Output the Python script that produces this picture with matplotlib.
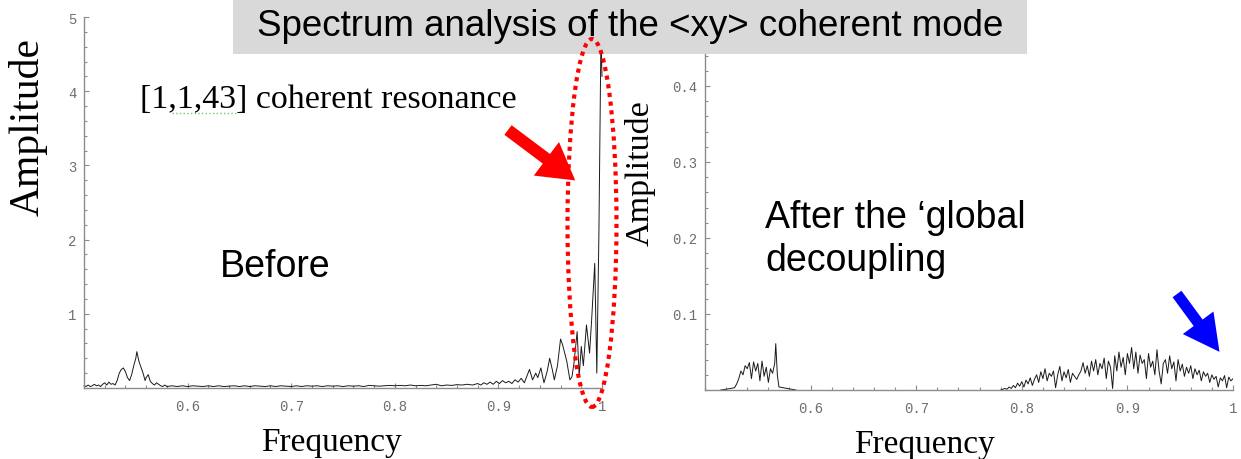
import matplotlib
matplotlib.use("Agg")
import matplotlib.pyplot as plt
from matplotlib.patches import Rectangle, Ellipse, FancyArrow
from matplotlib.transforms import Affine2D
from matplotlib.ticker import FixedLocator, FixedFormatter, MultipleLocator

# ---------------- data ----------------
left_freq = [0.500, 0.502, 0.504, 0.506, 0.508, 0.510, 0.512, 0.514, 0.516, 0.518,
             0.520, 0.522, 0.524, 0.526, 0.528, 0.530, 0.532, 0.534, 0.536, 0.538,
             0.540, 0.542, 0.544, 0.546, 0.548, 0.550, 0.551, 0.553, 0.555, 0.557,
             0.559, 0.560, 0.562, 0.564, 0.566, 0.568, 0.570, 0.572, 0.574, 0.576,
             0.578, 0.580,
             0.585, 0.590, 0.595, 0.600, 0.605, 0.610, 0.615, 0.620, 0.625, 0.630,
             0.635, 0.640, 0.645, 0.650, 0.655, 0.660, 0.665, 0.670, 0.675, 0.680,
             0.685, 0.690, 0.695, 0.700, 0.705, 0.710, 0.715, 0.720, 0.725, 0.730,
             0.735, 0.740, 0.745, 0.750, 0.755, 0.760, 0.765, 0.770, 0.775, 0.780,
             0.785, 0.790, 0.795, 0.800, 0.805, 0.810, 0.815, 0.820, 0.825, 0.830,
             0.835, 0.840, 0.845, 0.850, 0.855, 0.860, 0.865, 0.870, 0.875,
             0.880, 0.883, 0.886, 0.889, 0.892, 0.895, 0.898, 0.901, 0.904, 0.907,
             0.910, 0.913, 0.916, 0.919, 0.922, 0.925, 0.928, 0.930, 0.933, 0.936,
             0.938, 0.941, 0.944, 0.947, 0.9495, 0.952, 0.954, 0.957, 0.960, 0.962,
             0.964, 0.966, 0.969, 0.971, 0.973, 0.976, 0.978, 0.980, 0.982, 0.985,
             0.988, 0.990, 0.993, 0.995, 0.997, 0.999, 1.000]
left_amp = [0.03, 0.02, 0.04, 0.02, 0.03, 0.05, 0.03, 0.04, 0.02, 0.05,
            0.07, 0.04, 0.08, 0.05, 0.06, 0.04, 0.10, 0.20, 0.25, 0.27,
            0.22, 0.14, 0.10, 0.18, 0.30, 0.40, 0.49, 0.36, 0.28, 0.20,
            0.10, 0.14, 0.18, 0.09, 0.06, 0.04, 0.07, 0.05, 0.03, 0.02,
            0.04, 0.02,
            0.03, 0.02, 0.03, 0.02, 0.03, 0.025, 0.02, 0.03, 0.02, 0.03,
            0.02, 0.025, 0.03, 0.02, 0.03, 0.02, 0.03, 0.025, 0.02, 0.03,
            0.02, 0.03, 0.025, 0.02, 0.03, 0.02, 0.03, 0.025, 0.03, 0.02,
            0.03, 0.025, 0.03, 0.02, 0.03, 0.025, 0.03, 0.02, 0.035, 0.03,
            0.025, 0.03, 0.035, 0.03, 0.035, 0.03, 0.04, 0.03, 0.035, 0.03,
            0.04, 0.05, 0.03, 0.04, 0.035, 0.045, 0.04, 0.05, 0.04,
            0.06, 0.04, 0.07, 0.05, 0.08, 0.05, 0.09, 0.06, 0.10, 0.07,
            0.09, 0.06, 0.11, 0.08, 0.13, 0.07, 0.18, 0.25, 0.11, 0.20,
            0.14, 0.27, 0.07, 0.22, 0.40, 0.25, 0.11, 0.30, 0.66, 0.58,
            0.47, 0.36, 0.11, 0.15, 0.34, 0.76, 0.16, 0.56, 0.30, 0.85,
            0.47, 0.92, 1.68, 0.20, 2.07, 4.75, 4.20]

right_low_freq = [0.515, 0.520, 0.524, 0.528, 0.530, 0.532, 0.534, 0.536, 0.538, 0.540,
                  0.542, 0.544, 0.546, 0.548, 0.550, 0.552, 0.554, 0.556, 0.558, 0.560,
                  0.562, 0.564, 0.566, 0.567, 0.5685, 0.570, 0.574, 0.578, 0.582, 0.586]
right_low_amp = [0.000, 0.001, 0.002, 0.003, 0.008, 0.015, 0.025, 0.020, 0.032, 0.028,
                 0.036, 0.015, 0.037, 0.025, 0.035, 0.012, 0.038, 0.018, 0.030, 0.010,
                 0.028, 0.022, 0.035, 0.061, 0.020, 0.004, 0.003, 0.002, 0.001, 0.000]

right_high_freq = [0.780, 0.782, 0.784, 0.786, 0.788, 0.790, 0.792, 0.794, 0.796, 0.798,
                   0.800, 0.802, 0.804, 0.806, 0.808, 0.810, 0.812, 0.814, 0.816, 0.818,
                   0.820, 0.822, 0.824, 0.826, 0.828, 0.830, 0.832, 0.834, 0.836, 0.838,
                   0.840, 0.842, 0.844, 0.846, 0.848, 0.850, 0.852, 0.854, 0.856, 0.858,
                   0.860, 0.862, 0.864, 0.866, 0.868, 0.870, 0.872, 0.874, 0.876, 0.878,
                   0.880, 0.882, 0.884, 0.886, 0.888, 0.890, 0.892, 0.894, 0.896, 0.898,
                   0.900, 0.902, 0.904, 0.906, 0.908, 0.910, 0.912, 0.914, 0.916, 0.918,
                   0.920, 0.922, 0.924, 0.926, 0.928, 0.930, 0.932, 0.934, 0.936, 0.938,
                   0.940, 0.942, 0.944, 0.946, 0.948, 0.950, 0.952, 0.954, 0.956, 0.958,
                   0.960, 0.962, 0.964, 0.966, 0.968, 0.970, 0.972, 0.974, 0.976, 0.978,
                   0.980, 0.982, 0.984, 0.986, 0.988, 0.990, 0.992, 0.994, 0.996, 0.998,
                   1.000]
right_high_amp = [0.000, 0.001, 0.002, 0.001, 0.004, 0.002, 0.006, 0.003, 0.009, 0.005,
                  0.011, 0.004, 0.013, 0.008, 0.016, 0.006, 0.014, 0.020, 0.010, 0.024,
                  0.015, 0.028, 0.012, 0.022, 0.018, 0.025, 0.003, 0.020, 0.031, 0.012,
                  0.024, 0.016, 0.027, 0.010, 0.022, 0.018, 0.014, 0.020, 0.025, 0.036,
                  0.022, 0.032, 0.018, 0.038, 0.025, 0.040, 0.020, 0.035, 0.028, 0.042,
                  0.015, 0.038, 0.030, 0.002, 0.045, 0.025, 0.050, 0.030, 0.043, 0.020,
                  0.048, 0.035, 0.056, 0.028, 0.050, 0.022, 0.046, 0.035, 0.040, 0.015,
                  0.048, 0.030, 0.038, 0.020, 0.053, 0.025, 0.008, 0.035, 0.040, 0.022,
                  0.045, 0.028, 0.037, 0.012, 0.040, 0.025, 0.034, 0.018, 0.030, 0.022,
                  0.032, 0.015, 0.028, 0.020, 0.026, 0.012, 0.024, 0.018, 0.022, 0.010,
                  0.020, 0.014, 0.018, 0.004, 0.016, 0.012, 0.019, 0.003, 0.017, 0.012,
                  0.015]

x_ticks = [0.6, 0.7, 0.8, 0.9, 1.0]
x_tick_labels = ["0.6", "0.7", "0.8", "0.9", "1"]
left_y_ticks = [1, 2, 3, 4, 5]
left_y_tick_labels = ["1", "2", "3", "4", "5"]
right_y_ticks = [0.1, 0.2, 0.3, 0.4]
right_y_tick_labels = ["0.1", "0.2", "0.3", "0.4"]

title_text = "Spectrum analysis of the <xy> coherent mode"
resonance_text = "[1,1,43] coherent resonance"
before_text = "Before"
after_text = "After the \u2018global\ndecoupling"

# ---------------- figure ----------------
W, H = 1241, 460
fig = plt.figure(figsize=(W / 100, H / 100), dpi=100)
fig.patch.set_facecolor("white")
px = Affine2D().scale(1 / 100.0) + fig.dpi_scale_trans  # pixel units, origin bottom-left


def fy(y):  # image y (top-down) -> pixel y (bottom-up)
    return H - y


axis_color = "#8c8c8c"
tick_color = "#6e6e6e"
line_color = "#1a1a1a"
serif = "Liberation Serif"
sans = "Liberation Sans"
mono = "Liberation Mono"


def style_axes(ax, yt, ytl, ymin_step):
    for s in ("top", "right"):
        ax.spines[s].set_visible(False)
    for s in ("left", "bottom"):
        ax.spines[s].set_color(axis_color)
        ax.spines[s].set_linewidth(1.0)
    ax.xaxis.set_major_locator(FixedLocator(x_ticks))
    ax.xaxis.set_major_formatter(FixedFormatter(x_tick_labels))
    ax.xaxis.set_minor_locator(MultipleLocator(0.02))
    ax.yaxis.set_major_locator(FixedLocator(yt))
    ax.yaxis.set_major_formatter(FixedFormatter(ytl))
    ax.yaxis.set_minor_locator(MultipleLocator(ymin_step))
    ax.tick_params(which="both", direction="in", color=axis_color, width=0.8)
    ax.tick_params(which="major", length=3.5)
    ax.tick_params(which="minor", length=2.0)
    ax.tick_params(axis="x", which="major", pad=8.0, labelsize=10, labelcolor=tick_color)
    ax.tick_params(axis="y", which="major", pad=5.5, labelsize=10, labelcolor=tick_color)
    for lab in ax.get_xticklabels() + ax.get_yticklabels():
        lab.set_fontfamily(mono)
    ax.set_facecolor("none")


# Left axes
axL = fig.add_axes([84 / W, (H - 389) / H, (602 - 84) / W, (389 - 18) / H])
axL.plot(left_freq, left_amp, color=line_color, lw=0.7, clip_on=False)
axL.set_xlim(0.5, 1.0)
axL.set_ylim(0, 5)
style_axes(axL, left_y_ticks, left_y_tick_labels, 0.2)

# Right axes
axR = fig.add_axes([705 / W, (H - 391) / H, (1233 - 705) / W, (391 - 49) / H])
axR.plot(right_low_freq, right_low_amp, color=line_color, lw=0.7)
axR.plot(right_high_freq, right_high_amp, color=line_color, lw=0.7)
axR.set_xlim(0.5, 1.0)
axR.set_ylim(0, 0.45)
style_axes(axR, right_y_ticks, right_y_tick_labels, 0.02)

# Axis labels (figure text, positioned like the slide)
fig.text(28, fy(127), "Amplitude", transform=px, rotation=90, ha="center", va="center",
         fontsize=30, family=serif)
fig.text(640, fy(173), "Amplitude", transform=px, rotation=90, ha="center", va="center",
         fontsize=24.5, family=serif)
fig.text(331, fy(443), "Frequency", transform=px, ha="center", va="center",
         fontsize=24, family=serif)
fig.text(924, fy(445), "Frequency", transform=px, ha="center", va="center",
         fontsize=24, family=serif)

# Title box
fig.patches.append(Rectangle((233, fy(55)), 1027 - 233, 55, transform=px,
                             facecolor="#d9d9d9", edgecolor="none", zorder=10))
fig.text(630, fy(27), title_text, transform=px, ha="center", va="center",
         fontsize=26.5, family=sans, color="black", zorder=11)

# Annotations
fig.text(140, fy(100), resonance_text, transform=px, ha="left", va="center",
         fontsize=24.5, family=serif, color="black", zorder=11)
fig.lines.append(plt.Line2D([172, 237], [fy(114), fy(114)], transform=px,
                            color="#7cbf7c", lw=1.0, ls=":", zorder=11))
fig.text(220, fy(267), before_text, transform=px, ha="left", va="center",
         fontsize=27, family=sans, color="black", zorder=11)
fig.text(765, fy(200), after_text, transform=px, ha="left", va="top",
         fontsize=27, family=sans, color="black", linespacing=1.25, zorder=11)

# Red dotted ellipse around the resonance
fig.patches.append(Ellipse((592, fy(224)), 49, 368, transform=px, fill=False,
                           edgecolor="#ff0000", lw=3.0, ls=(0, (1, 1.1)), zorder=12))

# Red arrow
fig.patches.append(FancyArrow(508, fy(131), 64 * 0.6, -48 * 0.6, transform=px,
                              width=12, head_width=42, head_length=36,
                              length_includes_head=False, color="#ff0000",
                              linewidth=0, zorder=12))
# Blue arrow
fig.patches.append(FancyArrow(1177, fy(295), 47 * 0.45, -64 * 0.45, transform=px,
                              width=11, head_width=38, head_length=36,
                              length_includes_head=False, color="#0000ff",
                              linewidth=0, zorder=12))

fig.savefig("out.png", dpi=100)
